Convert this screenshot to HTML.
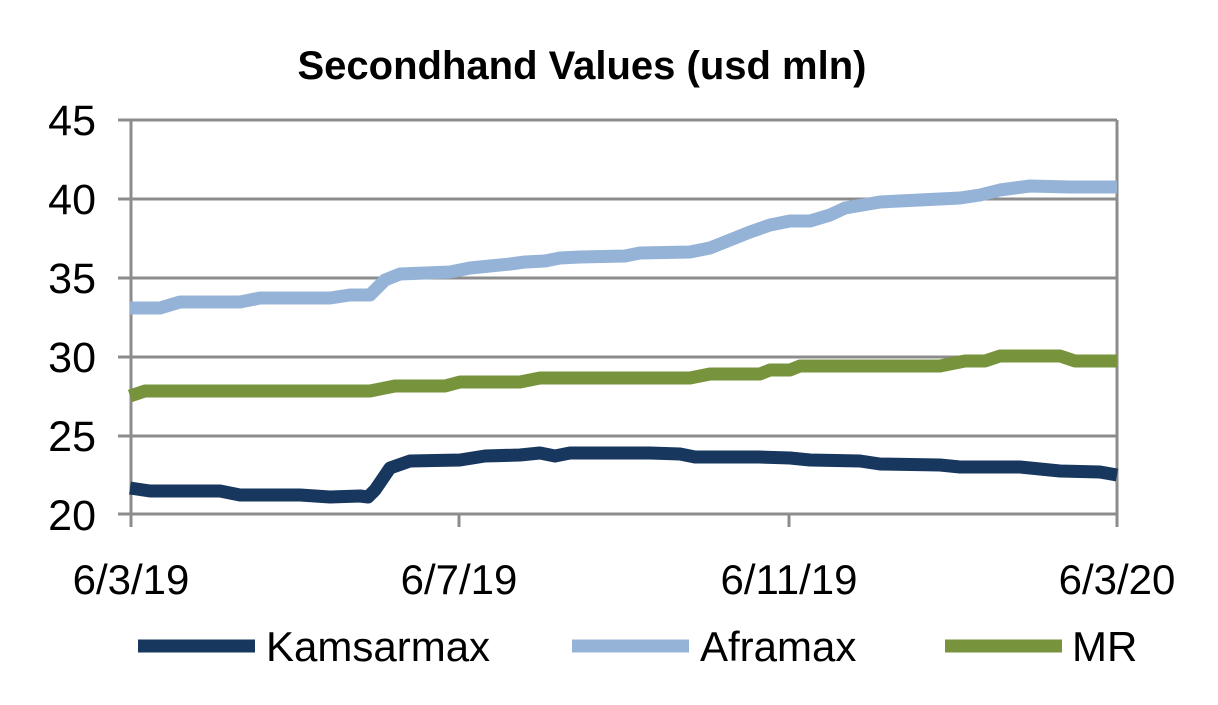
<!DOCTYPE html>
<html><head><style>body{margin:0;background:#fff}</style></head><body>
<svg width="1218" height="700" xmlns="http://www.w3.org/2000/svg" font-family="Liberation Sans, sans-serif">
<text x="582" y="79" font-size="40" font-weight="bold" text-anchor="middle" fill="#000">Secondhand Values (usd mln)</text>
<g stroke="#8c8c8c" stroke-width="3" fill="none">
<line x1="118" y1="120" x2="1117" y2="120"/>
<line x1="118" y1="199" x2="1117" y2="199"/>
<line x1="118" y1="278" x2="1117" y2="278"/>
<line x1="118" y1="357" x2="1117" y2="357"/>
<line x1="118" y1="436" x2="1117" y2="436"/>
<line x1="118" y1="514" x2="1117" y2="514"/>
<line x1="131" y1="120" x2="131" y2="527"/>
<line x1="1117" y1="120" x2="1117" y2="527"/>
<line x1="459" y1="514" x2="459" y2="527"/>
<line x1="789" y1="514" x2="789" y2="527"/>
</g>
<g font-size="43" fill="#000" text-anchor="end">
<text x="96" y="135">45</text><text x="96" y="214">40</text><text x="96" y="293">35</text>
<text x="96" y="372">30</text><text x="96" y="451">25</text><text x="96" y="530">20</text>
</g>
<g font-size="42" fill="#000" text-anchor="middle">
<text x="131" y="594">6/3/19</text><text x="459" y="594">6/7/19</text>
<text x="789" y="594">6/11/19</text><text x="1117" y="594">6/3/20</text>
</g>
<g fill="none" stroke-width="13" stroke-linejoin="round">
<polyline stroke="#17375e" points="130,488 150,491 220,491 240,495 300,495 330,497 360,496 368,497 375,490 390,468 410,461 460,460 485,456 520,455 540,453 555,456 570,453 650,453 680,454 695,457 760,457 790,458 810,460 860,461 880,464 940,465 960,467 1020,467 1040,469 1060,471 1100,472 1117,475"/>
<polyline stroke="#95b3d7" points="130,308 160,308 180,302 240,302 260,298 330,298 350,295 370,295 385,280 400,274 450,272 470,268 490,266 510,264 525,262 545,261 560,258 580,257 625,256 640,253 690,252 710,248 730,240 750,232 770,225 790,221 810,221 830,215 845,208 880,202 940,199 960,198 980,195 1000,190 1030,186 1070,187 1117,187"/>
<polyline stroke="#77933c" points="130,396 145,391 370,391 395,386 445,386 460,382 520,382 540,378 690,378 710,374 760,374 770,370 790,370 800,366 940,366 965,361 985,361 1000,356 1060,356 1075,361 1117,361"/>
</g>
<g stroke-width="13">
<line x1="138" y1="646" x2="255" y2="646" stroke="#17375e"/>
<line x1="572" y1="646" x2="689" y2="646" stroke="#95b3d7"/>
<line x1="945" y1="646" x2="1062" y2="646" stroke="#77933c"/>
</g>
<g font-size="42" fill="#000">
<text x="266" y="661">Kamsarmax</text><text x="700" y="661">Aframax</text><text x="1072" y="661">MR</text>
</g>
</svg>
</body></html>
